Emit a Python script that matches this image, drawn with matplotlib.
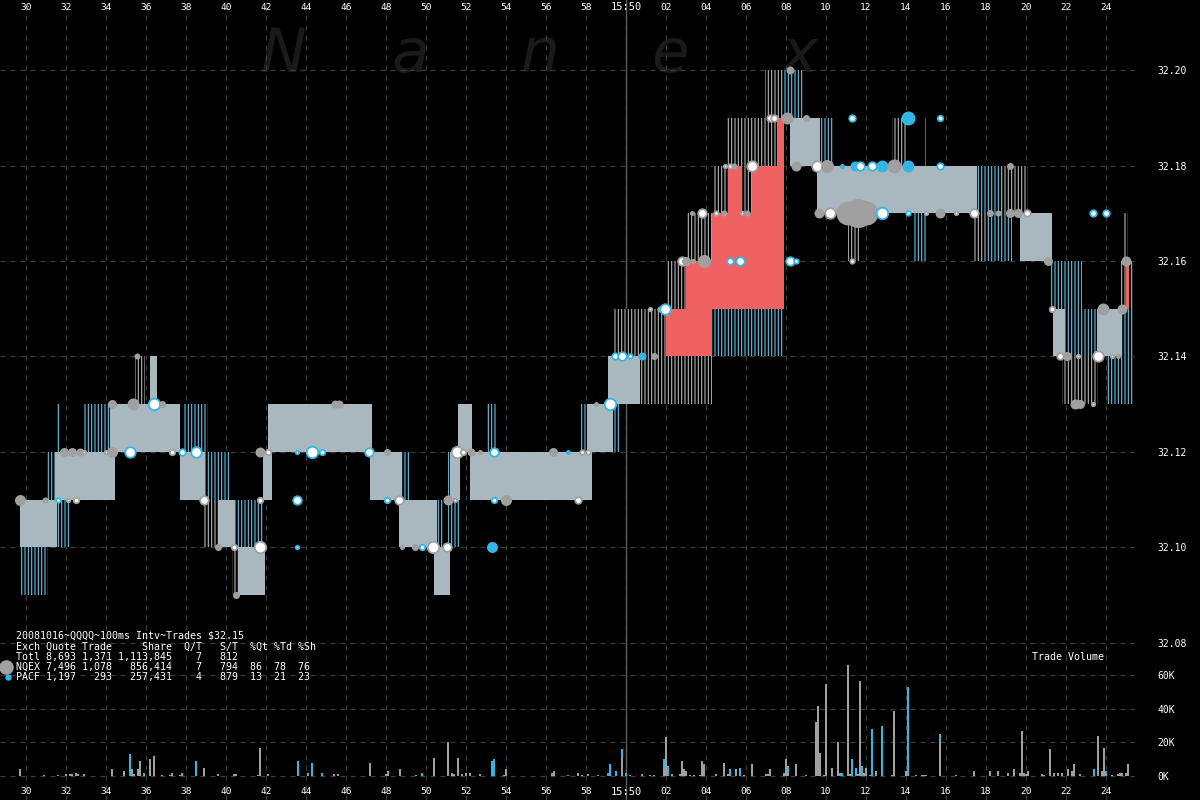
import matplotlib
matplotlib.use('Agg')
import matplotlib.pyplot as plt
from matplotlib.lines import Line2D

plt.rcParams['font.family'] = ['DejaVu Sans Mono', 'DejaVu Sans']
plt.rcParams['hatch.linewidth'] = 0.8

# ---------------- data ----------------
# time axis: seconds after 15:49:00
tick_secs = [30, 32, 34, 36, 38, 40, 42, 44, 46, 48, 50, 52, 54, 56, 58,
             60, 62, 64, 66, 68, 70, 72, 74, 76, 78, 80, 82, 84]
tick_labels = ['30', '32', '34', '36', '38', '40', '42', '44', '46', '48', '50',
               '52', '54', '56', '58', '15:50', '02', '04', '06', '08', '10',
               '12', '14', '16', '18', '20', '22', '24']
price_ticks = [32.08, 32.10, 32.12, 32.14, 32.16, 32.18, 32.20]
vol_ticks = [0, 20, 40, 60]
vol_tick_labels = ['0K', '20K', '40K', '60K']

# quote segments: start, end, low, high, kind
# q = quoted spread, cs = cyan flicker, gs = gray flicker, r = crossed, gx = gray flicker on top
q_t0 = [29.75, 31.55, 31.05, 31.55, 32.85, 35.45, 37.85, 38.95, 38.9, 40.45, 40.3,
        48.8, 50.55, 51.1, 53.05, 57.75, 59.3, 60.7, 59.4, 62.0, 63.0, 64.35, 65.05,
        66.95, 64.3, 67.85, 69.7, 73.3, 71.1, 74.35, 77.55, 78.7, 77.35, 78.1, 81.2,
        81.95, 84.8, 81.8, 84.05, 84.7, 84.9, 74.95,
        29.7, 31.45, 34.2, 36.2, 37.7, 39.6, 40.6, 41.85, 42.1, 47.2, 48.65, 50.4,
        51.2, 51.6, 52.2, 58.05, 59.1, 68.2, 69.55, 79.7, 81.35, 83.55,
        62.0, 63.0, 64.3, 65.1, 67.55, 84.98,
        65.8]
q_t1 = [31.1, 32.2, 31.45, 31.65, 34.2, 35.95, 39.1, 40.2, 39.6, 41.9, 40.6,
        49.2, 50.85, 51.7, 53.5, 58.05, 59.7, 64.3, 62.0, 63.0, 64.45, 65.1, 67.85,
        68.2, 67.85, 68.85, 70.35, 74.05, 71.7, 75.0, 78.7, 80.1, 78.1, 79.3, 82.8,
        83.55, 85.35, 83.6, 85.35, 85.35, 85.1, 75.05,
        31.55, 34.45, 37.7, 36.55, 38.95, 40.45, 41.95, 42.3, 47.3, 48.8, 50.55, 51.2,
        51.7, 52.3, 58.3, 59.35, 60.7, 69.7, 77.55, 81.3, 81.95, 84.8,
        63.0, 64.3, 65.1, 67.9, 67.9, 85.15,
        66.3]
q_lo = [32.09, 32.10, 32.11, 32.12, 32.12, 32.13, 32.12, 32.11, 32.10, 32.10, 32.09,
        32.11, 32.10, 32.10, 32.12, 32.12, 32.12, 32.13, 32.14, 32.15, 32.16, 32.17, 32.18,
        32.19, 32.14, 32.19, 32.18, 32.18, 32.16, 32.16, 32.17, 32.17, 32.16, 32.16, 32.15,
        32.14, 32.14, 32.13, 32.13, 32.15, 32.16, 32.18,
        32.10, 32.11, 32.12, 32.13, 32.11, 32.10, 32.09, 32.11, 32.12, 32.11, 32.10, 32.09,
        32.11, 32.12, 32.11, 32.12, 32.13, 32.18, 32.17, 32.16, 32.14, 32.14,
        32.14, 32.14, 32.15, 32.15, 32.18, 32.15,
        32.17]
q_hi = [32.10, 32.11, 32.12, 32.13, 32.13, 32.14, 32.13, 32.12, 32.11, 32.11, 32.10,
        32.12, 32.11, 32.12, 32.13, 32.13, 32.13, 32.14, 32.15, 32.16, 32.17, 32.18, 32.19,
        32.20, 32.15, 32.20, 32.19, 32.19, 32.17, 32.17, 32.18, 32.18, 32.17, 32.17, 32.16,
        32.15, 32.15, 32.14, 32.14, 32.16, 32.17, 32.19,
        32.11, 32.12, 32.13, 32.14, 32.12, 32.11, 32.10, 32.12, 32.13, 32.12, 32.11, 32.10,
        32.12, 32.13, 32.12, 32.13, 32.14, 32.19, 32.18, 32.17, 32.15, 32.15,
        32.15, 32.16, 32.17, 32.18, 32.19, 32.159,
        32.18]
q_kind = ['cs', 'cs', 'cs', 'cs', 'cs', 'gs', 'cs', 'cs', 'gs', 'cs', 'gs',
          'cs', 'cs', 'cs', 'cs', 'cs', 'cs', 'gs', 'gs', 'gs', 'gs', 'gs', 'gs',
          'gs', 'cs', 'cs', 'cs', 'gs', 'gs', 'cs', 'cs', 'gs', 'gs', 'cs', 'cs',
          'cs', 'cs', 'gs', 'cs', 'gs', 'gs', 'cs',
          'q', 'q', 'q', 'q', 'q', 'q', 'q', 'q', 'q', 'q', 'q', 'q',
          'q', 'q', 'q', 'q', 'q', 'q', 'q', 'q', 'q', 'q',
          'r', 'r', 'r', 'r', 'r', 'r',
          'gx']

# trades: time, price, dot size (px), source/style
trade_t = [29.7, 30.95, 31.6, 32.1, 32.5, 31.9, 32.3, 32.7, 32.9, 34.0, 34.3, 35.2,
           34.3, 35.35, 35.55, 36.4, 36.8, 37.3, 37.8, 38.5, 38.9, 39.6, 40.4, 41.7,
           40.5, 41.7, 41.7, 42.1, 43.55, 43.55, 43.55, 44.3, 44.8, 45.45, 45.65, 47.15,
           48.05, 48.05, 48.65, 48.8, 49.45, 49.8, 50.35, 51.05, 51.1, 51.45, 51.55, 51.85,
           52.25, 52.7, 53.4, 53.4, 54.0, 53.3, 56.35, 57.1, 57.8, 58.1, 57.6, 58.5,
           59.2, 59.45, 59.8, 60.2, 60.8, 61.4, 61.2, 61.7, 61.95, 62.8, 63.0, 63.35,
           63.9, 65.2, 65.7, 68.2, 68.5, 63.3, 63.8, 64.5, 64.9, 65.8, 66.05, 64.95,
           65.2, 65.4, 66.3, 67.2, 67.4, 68.05, 69.0, 68.2, 71.3, 74.1, 75.7, 68.5,
           69.55, 70.05, 70.8, 71.45, 71.7, 72.3, 72.8, 73.4, 74.1, 75.7, 79.2, 69.65,
           70.2, 71.1, 71.6, 72.0, 72.8, 74.1, 75.0, 75.7, 76.5, 77.4, 78.2, 78.6,
           79.2, 79.6, 80.05, 83.35, 84.0, 71.3, 81.1, 85.0, 81.3, 83.85, 84.8, 81.7,
           82.05, 82.6, 83.6, 84.3, 84.6, 82.45, 82.7, 83.35]
trade_p = [32.11, 32.11, 32.11, 32.11, 32.11, 32.12, 32.12, 32.12, 32.12, 32.12, 32.12, 32.12,
           32.13, 32.13, 32.14, 32.13, 32.13, 32.12, 32.12, 32.12, 32.11, 32.10, 32.10, 32.10,
           32.09, 32.11, 32.12, 32.12, 32.11, 32.10, 32.12, 32.12, 32.12, 32.13, 32.13, 32.12,
           32.12, 32.11, 32.11, 32.10, 32.10, 32.10, 32.10, 32.10, 32.11, 32.11, 32.12, 32.12,
           32.12, 32.12, 32.12, 32.11, 32.11, 32.10, 32.12, 32.12, 32.12, 32.12, 32.11, 32.13,
           32.13, 32.14, 32.14, 32.14, 32.14, 32.14, 32.15, 32.15, 32.15, 32.16, 32.16, 32.16,
           32.16, 32.16, 32.16, 32.16, 32.16, 32.17, 32.17, 32.17, 32.17, 32.17, 32.17, 32.18,
           32.18, 32.18, 32.18, 32.19, 32.19, 32.19, 32.19, 32.20, 32.19, 32.19, 32.19, 32.18,
           32.18, 32.18, 32.18, 32.18, 32.18, 32.18, 32.18, 32.18, 32.18, 32.18, 32.18, 32.17,
           32.17, 32.17, 32.17, 32.17, 32.17, 32.17, 32.17, 32.17, 32.17, 32.17, 32.17, 32.17,
           32.17, 32.17, 32.17, 32.17, 32.17, 32.16, 32.16, 32.16, 32.15, 32.15, 32.15, 32.14,
           32.14, 32.14, 32.14, 32.14, 32.14, 32.13, 32.13, 32.13]
trade_sz = [11, 6, 6, 5, 7, 9, 9, 8, 5, 5, 11, 12,
            9, 12, 6, 13, 7, 7, 8, 12, 10, 7, 7, 13,
            7, 7, 10, 7, 10, 5, 5, 13, 7, 8, 8, 10,
            7, 7, 10, 5, 7, 7, 13, 10, 10, 5, 13, 7,
            8, 5, 10, 7, 11, 11, 9, 5, 6, 6, 8, 5,
            13, 8, 10, 6, 8, 7, 5, 6, 12, 10, 9, 5,
            13, 8, 10, 10, 6, 5, 10, 6, 6, 5, 6, 5,
            6, 6, 12, 8, 8, 12, 7, 8, 8, 14, 7, 10,
            12, 13, 5, 10, 10, 10, 12, 14, 12, 8, 7, 10,
            12, 24, 29, 24, 13, 6, 5, 10, 5, 10, 7, 6,
            9, 9, 8, 8, 8, 6, 9, 10, 7, 12, 10, 8,
            9, 5, 12, 5, 5, 10, 9, 5]
trade_src = ['g', 'g', 'cw', 'gw', 'gw', 'g', 'g', 'g', 'gw', 'gw', 'g', 'cw',
             'g', 'g', 'g', 'cw', 'g', 'gw', 'cw', 'cw', 'gw', 'g', 'gw', 'gw',
             'g', 'gw', 'g', 'gw', 'cw', 'cw', 'cw', 'cw', 'cw', 'g', 'g', 'cw',
             'g', 'cw', 'gw', 'g', 'g', 'cw', 'gw', 'gw', 'g', 'gw', 'gw', 'gw',
             'g', 'g', 'cw', 'cw', 'g', 'c', 'g', 'c', 'gw', 'gw', 'gw', 'g',
             'cw', 'cw', 'cw', 'cw', 'c', 'g', 'gw', 'gw', 'cw', 'gw', 'g', 'g',
             'g', 'cw', 'cw', 'cw', 'cw', 'g', 'gw', 'gw', 'g', 'gw', 'g', 'gw',
             'gw', 'g', 'gw', 'gw', 'gw', 'g', 'g', 'g', 'cw', 'c', 'cw', 'g',
             'gw', 'g', 'c', 'c', 'cw', 'cw', 'c', 'g', 'c', 'cw', 'g', 'g',
             'gw', 'g', 'g', 'g', 'cw', 'cw', 'gw', 'g', 'gw', 'gw', 'g', 'g',
             'g', 'g', 'gw', 'cw', 'cw', 'gw', 'g', 'g', 'gw', 'g', 'g', 'gw',
             'g', 'gw', 'gw', 'gw', 'g', 'g', 'g', 'gw']

# trade volume per 100ms interval (thousands of shares)
vol_t = [29.7, 30.9, 31.6, 32.0, 32.2, 32.3, 32.5, 32.6, 32.9, 34.3, 34.9, 35.2,
         35.3, 35.4, 35.6, 35.7, 35.9, 36.2, 36.4, 36.8, 37.2, 37.3, 37.7, 37.8,
         38.5, 38.9, 39.6, 40.4, 40.5, 41.6, 41.7, 42.1, 43.6, 44.1, 44.3, 44.8,
         45.4, 45.6, 47.2, 48.0, 48.1, 48.7, 49.5, 49.8, 50.4, 51.1, 51.3, 51.4,
         51.6, 51.8, 52.0, 52.2, 52.7, 53.3, 53.4, 53.9, 54.0, 56.3, 56.4, 57.1,
         57.6, 57.8, 58.1, 58.6, 59.1, 59.2, 59.5, 59.8, 60.0, 60.2, 60.8, 61.2,
         61.4, 61.9, 62.0, 62.1, 62.3, 62.7, 62.8, 62.9, 63.0, 63.2, 63.4, 63.7,
         63.8, 63.9, 64.5, 64.9, 65.1, 65.2, 65.5, 65.7, 65.9, 66.3, 67.0, 67.1,
         67.2, 67.9, 68.0, 68.1, 68.5, 69.0, 69.5, 69.6, 69.7, 69.9, 70.0, 70.3,
         70.6, 70.7, 70.8, 71.1, 71.2, 71.3, 71.5, 71.6, 71.7, 71.8, 71.9, 72.0,
         72.2, 72.3, 72.5, 72.8, 73.3, 73.4, 74.0, 74.1, 74.5, 74.8, 74.9, 75.0,
         75.7, 76.5, 77.4, 78.2, 78.6, 79.1, 79.4, 79.7, 79.8, 79.9, 80.0, 80.1,
         80.8, 80.9, 81.2, 81.4, 81.6, 81.8, 82.1, 82.3, 82.4, 82.7, 83.4, 83.6,
         83.8, 83.9, 84.0, 84.3, 84.6, 84.7, 84.8, 85.0, 85.1]
vol_nq = [4, 0.5, 0.5, 1, 1, 1, 1.5, 1, 1, 4, 3, 0,
          4, 1, 4, 9, 0, 10, 11, 0.5, 0.5, 2, 0.5, 0,
          0, 5, 1, 1, 1, 0.5, 17, 1, 0, 2, 0, 0,
          1, 1, 7, 1, 1, 4, 0.5, 0, 11, 20, 2, 1,
          11, 1, 1.5, 1.5, 1, 0, 0, 0.5, 4, 2, 3, 0,
          2, 0.5, 1, 0.5, 0, 0, 0, 11, 0, 0, 0, 0.5,
          0.5, 5, 23, 0, 1, 1, 9, 4, 3, 0.5, 0.5, 0.5,
          9, 7, 1, 8, 1, 0, 4, 0, 0.5, 7, 1, 1,
          4, 2, 10, 2, 7, 0.5, 32, 42, 14, 0.5, 55, 5,
          20, 0, 0, 66, 1, 0, 0, 1, 56, 0, 2, 5,
          0, 0, 3, 0, 0.5, 39, 3, 0, 0.5, 0.5, 0.5, 0.5,
          22, 0.5, 3, 3, 3, 2, 4, 2, 27, 2, 1, 3,
          1, 0.5, 16, 2, 2, 2, 4, 3, 7, 1, 0, 24,
          3, 17, 0, 0.5, 1, 1.5, 2, 2, 7]
vol_pa = [0, 0, 0, 0, 0, 0, 0, 0, 0, 0, 0, 13,
          0, 0, 0, 0, 2, 0, 1, 0, 0, 0, 0, 2,
          9, 0, 0, 0, 0, 0, 0, 0, 9, 0, 8, 2,
          0, 0, 1, 0, 2, 0, 0, 2, 0, 0, 0, 0,
          0, 0, 0, 0, 0, 9, 10, 0, 0, 0, 0, 0.5,
          0, 0, 0, 0, 2, 7, 3, 5, 2, 0.5, 1, 0,
          0, 5, 0, 6, 0, 0, 0, 0, 0, 0, 0, 0,
          0, 0, 0, 0, 0, 4, 0, 5, 0, 0, 0, 0,
          0, 0, 0, 4, 0, 0, 0, 0, 0, 0, 0, 0,
          0, 2, 1.5, 0, 0, 10, 5, 0, 1, 6, 0, 0,
          0.5, 28, 0, 30, 0, 0, 0, 53, 0, 0, 0, 0,
          3, 0, 0, 0, 0, 0, 0, 0, 0, 0, 0, 0,
          0, 0, 0, 0, 0, 0, 0, 0, 0, 0, 4, 0,
          0, 0, 3, 0, 0, 0, 0, 0, 0]

legend_lines = ['20081016~QQQQ~100ms Intv~Trades $32.15',
                'Exch Quote Trade     Share  Q/T   S/T  %Qt %Td %Sh',
                'Totl 8,693 1,371 1,113,845    7   812',
                'NQEX 7,496 1,078   856,414    7   794  86  78  76',
                'PACF 1,197   293   257,431    4   879  13  21  23']

# ---------------- style ----------------
GRAY = '#a0a0a0'
CYAN = '#33b6e6'
QUOTE = '#a9b8bf'
RED = '#f06262'
GRID = '#3c3c3c'
W, H = 1200, 800
AX_W = 1135 / W

fig = plt.figure(figsize=(12, 8), dpi=100, facecolor='black')
ax = fig.add_axes([0, 0, AX_W, 1])
ax.set_facecolor('black')
ax.set_xlim(28.7, 85.45)
ax.set_ylim(32.04712, 32.21466)
for s in ax.spines.values():
    s.set_visible(False)
ax.set_xticks(tick_secs)
ax.set_yticks(price_ticks)
ax.set_yticklabels(['%.2f' % p for p in price_ticks])
ax.grid(True, color=GRID, linestyle=(0, (4, 4)), linewidth=0.9)
ax.set_axisbelow(True)
ax.tick_params(axis='x', bottom=False, labelbottom=False, top=False, labeltop=False)
ax.yaxis.tick_right()
ax.tick_params(axis='y', length=0, pad=16, labelsize=7, labelcolor='white')

# 15:50 marker line
ax.axvline(60, color='#5c5c5c', linewidth=1.0, zorder=1)

# watermark
for ch, px in zip('Nanex', [283, 410, 540, 670, 800]):
    ax.text(px / 1135, 1 - 72 / H, ch, transform=ax.transAxes, ha='center',
            va='baseline', fontsize=44, style='italic', color='#1a1a1a',
            family='DejaVu Sans', zorder=0.5)

# time labels top and bottom
for t, lab in zip(tick_secs, tick_labels):
    fs = 7.5 if lab == '15:50' else 6.8
    ax.text(t, 1 - 7 / H, lab, transform=ax.get_xaxis_transform(), ha='center',
            va='center', fontsize=fs, color='white')
    ax.text(t, 8 / H, lab, transform=ax.get_xaxis_transform(), ha='center',
            va='center', fontsize=fs, color='white')

# quote segments
style = {
    'gs': dict(facecolor='black', edgecolor='#b4b4b4', hatch='|' * 5, z=1.6),
    'cs': dict(facecolor='black', edgecolor='#62c4e6', hatch='|' * 5, z=1.7),
    'q': dict(facecolor=QUOTE, edgecolor=QUOTE, hatch=None, z=2.0),
    'r': dict(facecolor=RED, edgecolor=RED, hatch=None, z=2.2),
    'gx': dict(facecolor='black', edgecolor='#b4b4b4', hatch='|' * 5, z=2.3),
}
for t0, t1, lo, hi, k in zip(q_t0, q_t1, q_lo, q_hi, q_kind):
    st = style[k]
    ax.bar(t0, hi - lo, width=t1 - t0, bottom=lo, align='edge',
           facecolor=st['facecolor'], edgecolor=st['edgecolor'],
           hatch=st['hatch'], linewidth=0, zorder=st['z'])

# trades
for t, p, d, k in zip(trade_t, trade_p, trade_sz, trade_src):
    if k == 'g':
        ax.scatter(t, p, s=(0.72 * d) ** 2, color=GRAY, linewidths=0, zorder=3)
    elif k == 'c':
        ax.scatter(t, p, s=(0.72 * d) ** 2, color=CYAN, linewidths=0, zorder=3)
    elif k == 'gw':
        ax.scatter(t, p, s=(0.72 * (d - 1.5)) ** 2, facecolor='white',
                   edgecolor=GRAY, linewidths=1.3, zorder=3)
    else:
        ax.scatter(t, p, s=(0.72 * (d - 1.5)) ** 2, facecolor='white',
                   edgecolor=CYAN, linewidths=1.3, zorder=3)

# volume panel
vax = fig.add_axes([0, 0, AX_W, 155 / H])
vax.patch.set_alpha(0)
vax.set_xlim(28.7, 85.45)
vax.set_ylim(-14.33, 78.2)
for s in vax.spines.values():
    s.set_visible(False)
vax.set_xticks([])
vax.set_yticks(vol_ticks)
vax.set_yticklabels(vol_tick_labels)
vax.yaxis.tick_right()
vax.tick_params(axis='y', length=0, pad=16, labelsize=7, labelcolor='white')
vax.grid(True, axis='y', color=GRID, linestyle=(0, (4, 4)), linewidth=0.9)
vax.set_axisbelow(True)
vax.bar(vol_t, vol_nq, width=0.11, color=GRAY, linewidth=0, zorder=2)
vax.bar(vol_t, vol_pa, width=0.11, bottom=vol_nq, color=CYAN, linewidth=0, zorder=2)
fig.text(1032 / W, 1 - 657 / H, 'Trade Volume', color='white', fontsize=7.2,
         ha='left', va='center')

# legend block
for i, line in enumerate(legend_lines):
    fig.text(16 / W, 1 - (636 + 10.3 * i) / H, line, color='white', fontsize=7.2,
             ha='left', va='center')
fig.add_artist(Line2D([6 / W], [1 - 667 / H], marker='o', markersize=9.5,
                      color=GRAY, linestyle='none', transform=fig.transFigure))
fig.add_artist(Line2D([8 / W], [1 - 677 / H], marker='o', markersize=3.6,
                      color=CYAN, linestyle='none', transform=fig.transFigure))

fig.savefig('out.png', dpi=100, facecolor='black')
